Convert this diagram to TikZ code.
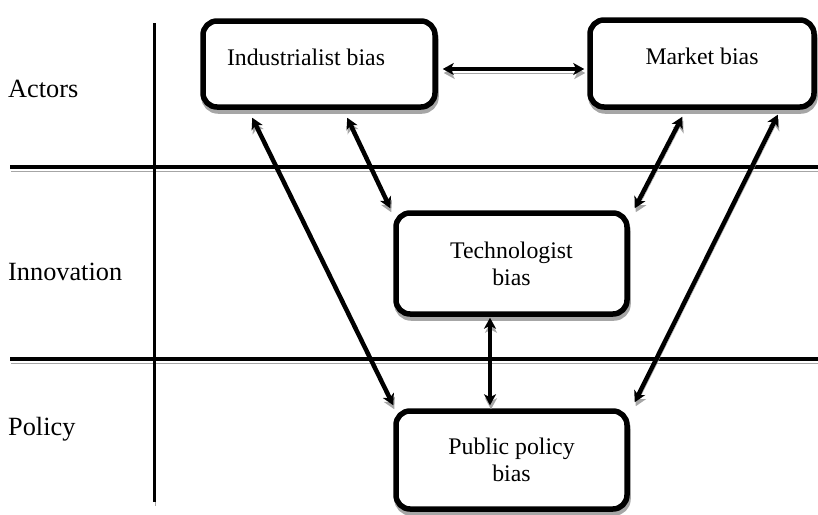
\documentclass[tikz,border=0pt]{standalone}
\usepackage{fontspec}
\setmainfont{Liberation Serif}
\usetikzlibrary{arrows.meta}

\tikzset{
    grayshade/.style={preaction={draw=black!35, transform canvas={shift={(1pt,-4pt)}}}},
    biasbox/.style={draw, fill=white, line width=5.5pt, rounded corners=14pt, align=center, grayshade},
    rowlabel/.style={anchor=base west, inner sep=0pt, font=\fontsize{26.3}{30}\selectfont},
    link/.style={<->, line width=4.5pt, grayshade},
    rule/.style={line width=4pt, grayshade},
}

\begin{document}
\begin{tikzpicture}[x=1pt, y=-1pt, >={Stealth[length=11pt,width=12pt,inset=3pt]},
    font=\fontsize{23.8}{27}\selectfont]
    \useasboundingbox (0,0) rectangle (818,514);

    % Row dividers and column line
    \draw[rule] (10,167) -- (818,167);
    \draw[rule] (10,359) -- (818,359);
    \draw[line width=3pt, grayshade] (154,23) -- (154,502);

    % Row labels
    \node[rowlabel] (actors) at (8,97) {Actors};
    \node[rowlabel] (innovation) at (8,280) {Innovation};
    \node[rowlabel] (policy) at (8,435) {Policy};

    % Bias boxes
    \node[biasbox, minimum width=232pt, minimum height=86pt, text depth=14pt] (ind) at (319,64) {Industrialist bias\hspace*{26pt}};
    \node[biasbox, minimum width=224pt, minimum height=87pt, text depth=14pt] (mkt) at (702,63.5) {Market bias};
    \node[biasbox, minimum width=231pt, minimum height=101pt] (tech) at (511.5,263.5) {Technologist\\bias};
    \node[biasbox, minimum width=231pt, minimum height=98pt] (pub) at (511.5,460) {Public policy\\bias};

    % Two-way links
    \draw[link] ([shift={(5pt,-5pt)}]ind.east) -- ([shift={(-3pt,-5.5pt)}]mkt.west);
    \draw[link] ([shift={(52pt,-8pt)}]ind.south west) -- ([shift={(0pt,3pt)}]pub.north west);
    \draw[link] ([shift={(147pt,-8pt)}]ind.south west) -- ([shift={(-3pt,2pt)}]tech.north west);
    \draw[link] ([shift={(95pt,-7pt)}]mkt.south west) -- ([shift={(5pt,2pt)}]tech.north east);
    \draw[link] ([shift={(-39pt,-5pt)}]mkt.south east) -- ([shift={(5pt,6pt)}]pub.north east);
    \draw[link] ([shift={(-21.5pt,-1pt)}]tech.south) -- ([shift={(-21.5pt,3pt)}]pub.north);
\end{tikzpicture}
\end{document}
